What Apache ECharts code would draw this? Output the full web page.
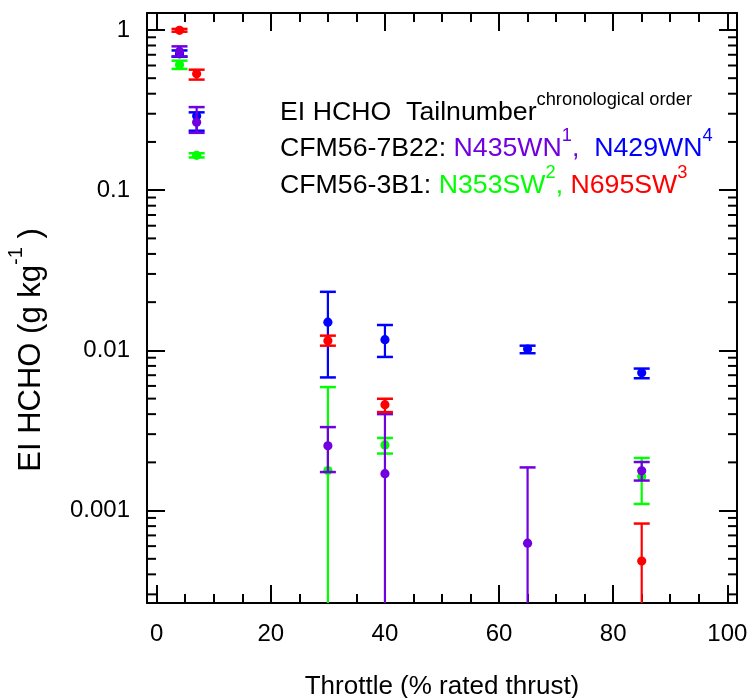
<!DOCTYPE html>
<html>
<head>
<meta charset="utf-8">
<script src="https://cdn.jsdelivr.net/npm/echarts@6/dist/echarts.min.js"></script>
<style>
  html, body { margin: 0; padding: 0; background: #fff; }
  #chart { width: 751px; height: 698px; }
</style>
</head>
<body>
<div id="chart"></div>
<script>
// EI HCHO (g/kg) vs throttle, one array per tail number
// row = [throttle %, value, lower, upper]; lower null -> bar runs off the bottom of the axis
const n435wn = [[4, 0.735, 0.684, 0.79], [7, 0.265, 0.228, 0.33], [30, 0.00254, 0.00174, 0.00332],
                [40, 0.0017, null, 0.0040], [65, 0.000626, null, 0.00186], [85, 0.00177, 0.00154, 0.00201]];
const n429wn = [[4, 0.71, 0.68, 0.745], [7, 0.29, 0.235, 0.306], [30, 0.0150, 0.00678, 0.0232],
                [40, 0.01166, 0.0091, 0.0144], [65, 0.0102, 0.0096, 0.0107], [85, 0.00724, 0.0067, 0.0077]];
const n353sw = [[4, 0.607, 0.571, 0.643], [7, 0.165, 0.16, 0.17], [30, 0.00178, null, 0.0059],
                [40, 0.00257, 0.00227, 0.00284], [85, 0.00163, 0.0011, 0.00213]];
const n695sw = [[4, 0.995, 0.975, 1.015], [7, 0.533, 0.49, 0.565], [30, 0.0115, 0.0107, 0.01236],
                [40, 0.00458, 0.00412, 0.00499], [85, 0.000484, null, 0.00083]];

const yTickLabels = ['0.001', '0.01', '0.1', '1'];
const yMin = 0.000265, yMax = 1.276;

// 2..9 x 10^k minor ticks inside the axis range
const yMinorTicks = [];
for (let k = -4; k <= 0; k++) {
    for (let m = 2; m <= 9; m++) {
        const v = m * Math.pow(10, k);
        if (v > yMin && v < yMax) yMinorTicks.push([0, v]);
    }
}

const PURPLE = '#7000e0', BLUE = '#0000ff', GREEN = '#00ff00', RED = '#ff0000';
const FONT = '"Liberation Sans", Arial, sans-serif';

function errorBars(color) {
    return function (params, api) {
        const cs = params.coordSys;
        const x = api.value(0);
        const p = api.coord([x, api.value(1)]);
        const lo = api.value(2), hi = api.value(3);
        const top = api.coord([x, hi])[1];
        const hasLo = lo != null && !isNaN(lo) && lo > 0;
        const bottom = hasLo ? api.coord([x, lo])[1] : cs.y + cs.height;
        const w = 8;
        const kids = [
            {type: 'line', shape: {x1: p[0], y1: top, x2: p[0], y2: bottom}, style: {stroke: color, lineWidth: 2.2}},
            {type: 'line', shape: {x1: p[0] - w, y1: top, x2: p[0] + w, y2: top}, style: {stroke: color, lineWidth: 2.5}}
        ];
        if (hasLo) {
            kids.push({type: 'line', shape: {x1: p[0] - w, y1: bottom, x2: p[0] + w, y2: bottom}, style: {stroke: color, lineWidth: 2.5}});
        }
        kids.push({type: 'circle', shape: {cx: p[0], cy: p[1], r: 4.6}, style: {fill: color}});
        return {type: 'group', children: kids};
    };
}

function minorTicks(params, api) {
    const cs = params.coordSys;
    const y = api.coord([0, api.value(1)])[1];
    const st = {stroke: '#000', lineWidth: 2};
    return {type: 'group', children: [
        {type: 'line', shape: {x1: cs.x, y1: y, x2: cs.x + 9, y2: y}, style: st},
        {type: 'line', shape: {x1: cs.x + cs.width - 9, y1: y, x2: cs.x + cs.width, y2: y}, style: st}
    ]};
}

function xAxisCfg(pos) {
    return {
        type: 'value', position: pos, min: -1.7, max: 101.7, splitNumber: 5,
        axisLine: {onZero: false, lineStyle: {color: '#000', width: 2}},
        axisTick: {inside: true, length: 18, lineStyle: {color: '#000', width: 2}},
        minorTick: {show: true, splitNumber: 4, length: 9, lineStyle: {color: '#000', width: 2}},
        splitLine: {show: false},
        axisLabel: {show: pos === 'bottom', showMinLabel: false, showMaxLabel: false,
            fontSize: 24, color: '#000', fontFamily: FONT, margin: 19}
    };
}

function yAxisCfg(pos) {
    return {
        type: 'log', logBase: 10, position: pos, min: yMin, max: yMax,
        axisLine: {onZero: false, lineStyle: {color: '#000', width: 2}},
        axisTick: {inside: true, length: 18, lineStyle: {color: '#000', width: 2}},
        minorTick: {show: false},
        splitLine: {show: false},
        axisLabel: {show: pos === 'left', showMinLabel: false, showMaxLabel: false,
            fontSize: 24, color: '#000', fontFamily: FONT, margin: 17,
            formatter: function (v) {
                const i = Math.round(Math.log10(v)) + 3;
                return yTickLabels[i] || '';
            }}
    };
}

const chart = echarts.init(document.getElementById('chart'));

const xBottom = xAxisCfg('bottom');
xBottom.name = 'Throttle (% rated thrust)';
xBottom.nameLocation = 'middle';
xBottom.nameGap = 71;
xBottom.nameTextStyle = {fontSize: 26, color: '#000', fontFamily: FONT};

const legendRich = {
    m: {fontSize: 26.7, lineHeight: 44, fontFamily: FONT, fill: '#000'},
    s: {fontSize: 18.3, lineHeight: 18, verticalAlign: 'top', fontFamily: FONT, fill: '#000'},
    p: {fontSize: 26.7, lineHeight: 44, fontFamily: FONT, fill: PURPLE},
    ps: {fontSize: 18.3, lineHeight: 18, verticalAlign: 'top', fontFamily: FONT, fill: PURPLE},
    b: {fontSize: 26.7, lineHeight: 44, fontFamily: FONT, fill: BLUE},
    bs: {fontSize: 18.3, lineHeight: 18, verticalAlign: 'top', fontFamily: FONT, fill: BLUE},
    g: {fontSize: 26.7, lineHeight: 44, fontFamily: FONT, fill: GREEN},
    gs: {fontSize: 18.3, lineHeight: 18, verticalAlign: 'top', fontFamily: FONT, fill: GREEN},
    r: {fontSize: 26.7, lineHeight: 44, fontFamily: FONT, fill: RED},
    rs: {fontSize: 18.3, lineHeight: 18, verticalAlign: 'top', fontFamily: FONT, fill: RED}
};

const yTitleRich = {
    m: {fontSize: 31, lineHeight: 50, fontFamily: FONT, fill: '#000'},
    s: {fontSize: 20, lineHeight: 20, verticalAlign: 'top', fontFamily: FONT, fill: '#000'}
};

const option = {
    animation: false,
    backgroundColor: '#fff',
    grid: {left: 147, right: 14, top: 13, bottom: 95, containLabel: false, outerBoundsMode: 'none'},
    xAxis: [xBottom, xAxisCfg('top')],
    yAxis: [yAxisCfg('left'), yAxisCfg('right')],
    graphic: [
        // y axis title, rotated
        {type: 'text', x: 31, y: 350, rotation: Math.PI / 2, style: {
            rich: yTitleRich, align: 'center', verticalAlign: 'middle',
            text: '{m|EI HCHO (g kg}{s|-1}{m| )}'}},
        {type: 'text', left: 280, top: 91, style: {rich: legendRich,
            text: '{m|EI HCHO  Tailnumber}{s|chronological order}'}},
        {type: 'text', left: 280, top: 127, style: {rich: legendRich,
            text: '{m|CFM56-7B22: }{p|N435WN}{ps|1}{p|,  }{b|N429WN}{bs|4}'}},
        {type: 'text', left: 280, top: 164, style: {rich: legendRich,
            text: '{m|CFM56-3B1: }{g|N353SW}{gs|2}{g|, }{r|N695SW}{rs|3}'}}
    ],
    series: [
        {type: 'custom', name: 'minor ticks', silent: true, data: yMinorTicks,
            encode: {x: 0, y: 1}, renderItem: minorTicks, z: 1},
        {type: 'custom', name: 'N429WN', data: n429wn, encode: {x: 0, y: 1}, renderItem: errorBars(BLUE), z: 2},
        {type: 'custom', name: 'N353SW', data: n353sw, encode: {x: 0, y: 1}, renderItem: errorBars(GREEN), z: 3},
        {type: 'custom', name: 'N435WN', data: n435wn, encode: {x: 0, y: 1}, renderItem: errorBars(PURPLE), z: 4},
        {type: 'custom', name: 'N695SW', data: n695sw, encode: {x: 0, y: 1}, renderItem: errorBars(RED), z: 5}
    ]
};

chart.setOption(option);
</script>
</body>
</html>
